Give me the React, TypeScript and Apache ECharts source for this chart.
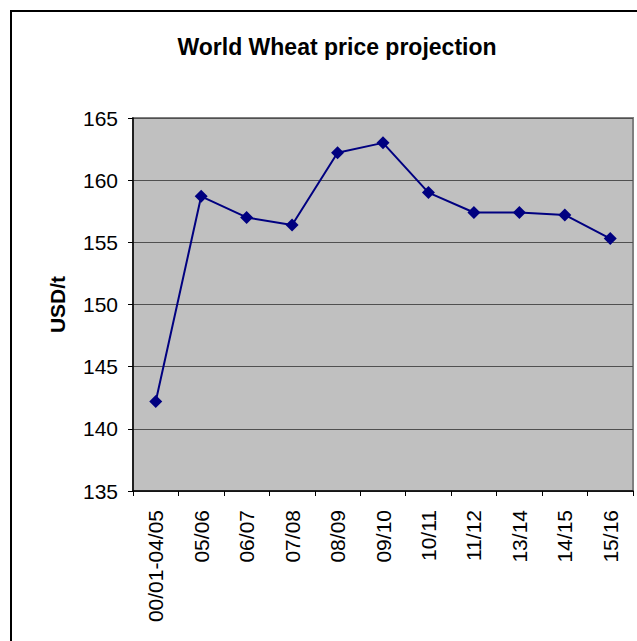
import React, { useEffect, useRef } from "react";
import * as echarts from "echarts";

const seasons = [
  "00/01-04/05",
  "05/06",
  "06/07",
  "07/08",
  "08/09",
  "09/10",
  "10/11",
  "11/12",
  "13/14",
  "14/15",
  "15/16",
];
const wheatPrice = [142.2, 158.7, 157.0, 156.4, 162.2, 163.0, 159.0, 157.4, 157.4, 157.2, 155.3];
const priceTicks = { min: 135, max: 165, interval: 5 };

const FONT = "'Liberation Sans', Arial, sans-serif";

export default function App() {
  const ref = useRef<HTMLDivElement>(null);

  useEffect(() => {
    if (!ref.current) return;
    const chart = echarts.init(ref.current, undefined, { renderer: "svg" });
    chart.setOption({
      animation: false,
      backgroundColor: "#ffffff",
      textStyle: { fontFamily: FONT },
      title: {
        text: "World Wheat price projection",
        left: 332,
        top: 30,
        textAlign: "center",
        textStyle: { fontFamily: FONT, fontSize: 23, fontWeight: "bold", color: "#000" },
      },
      graphic: [
        {
          type: "rect",
          shape: { x: 11, y: 11, width: 700, height: 700 },
          style: { fill: "none", stroke: "#000", lineWidth: 2 },
          z: 100,
        },
      ],
      grid: {
        left: 133,
        top: 118,
        width: 500,
        height: 373,
        show: true,
        backgroundColor: "#c0c0c0",
        borderColor: "#808080",
        borderWidth: 2,
      },
      xAxis: {
        type: "category",
        data: seasons,
        boundaryGap: true,
        axisLine: { lineStyle: { color: "#000", width: 1.5 } },
        axisTick: { show: true, length: 5, lineStyle: { color: "#000" } },
        axisLabel: {
          rotate: 90,
          margin: 19,
          fontFamily: FONT,
          fontSize: 21,
          color: "#000",
          interval: 0,
        },
      },
      yAxis: {
        type: "value",
        min: priceTicks.min,
        max: priceTicks.max,
        interval: priceTicks.interval,
        name: "USD/t",
        nameLocation: "middle",
        nameRotate: 90,
        nameGap: 65,
        nameTextStyle: { fontFamily: FONT, fontSize: 21, fontWeight: "bold", color: "#000" },
        axisLine: { show: true, lineStyle: { color: "#000", width: 1.5 } },
        axisTick: { show: true, length: 5, inside: false, lineStyle: { color: "#000" } },
        axisLabel: { margin: 15, fontFamily: FONT, fontSize: 21, color: "#000" },
        splitLine: { show: true, lineStyle: { color: "#505050", width: 1 } },
      },
      series: [
        {
          type: "line",
          data: wheatPrice,
          symbol: "diamond",
          symbolSize: 13,
          lineStyle: { color: "#000080", width: 2 },
          itemStyle: { color: "#000080" },
        },
      ],
    });
    return () => chart.dispose();
  }, []);

  return (
    <div
      ref={ref}
      style={{ position: "fixed", left: 0, top: 0, width: 637, height: 641 }}
    />
  );
}
